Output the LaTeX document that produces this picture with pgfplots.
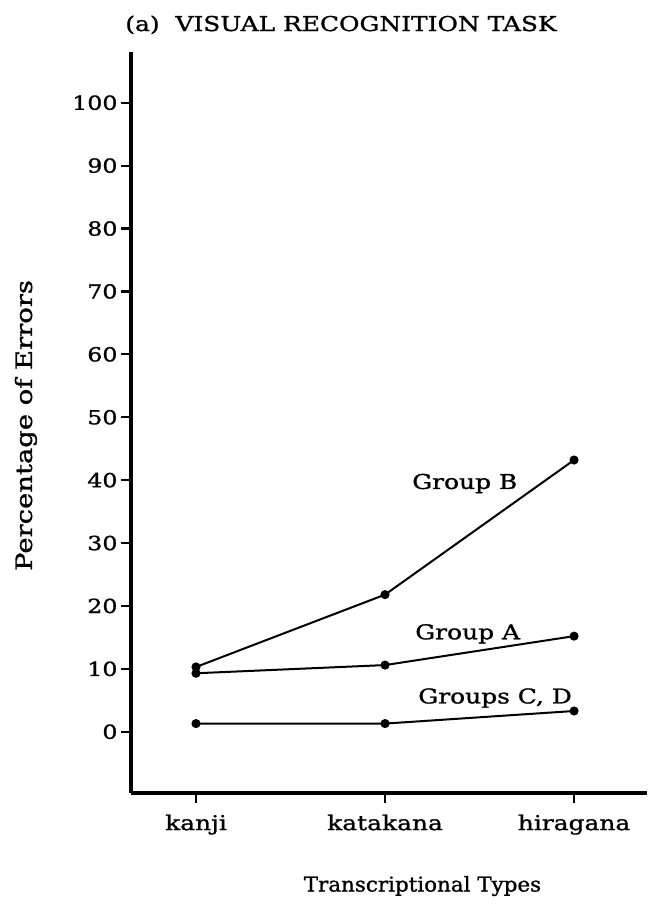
\documentclass[border=0pt]{standalone}
\usepackage{fontspec}
\setmainfont[FakeStretch=1.22, FakeBold=1.2]{DejaVu Serif}
\usepackage{graphicx}
\usepackage{pgfplots}
\pgfplotsset{compat=1.18}

\begin{document}
\begin{tikzpicture}
\begin{axis}[
    scale only axis,
    width=515.8bp, height=741bp,
    xmin=-0.344, xmax=2.385,
    ymin=-9.75, ymax=108.06,
    axis lines*=left,
    axis line style={line width=4bp},
    clip=false,
    xtick={0,1,2},
    xticklabels={kanji, katakana, hiragana},
    ytick={0,10,...,100},
    tick align=outside,
    major tick length=10bp,
    tick style={line width=2.2bp, black},
    /pgf/number format/assume math mode=true,
    ticklabel style={font=\fontsize{19.5}{22}\selectfont},
    xticklabel style={font=\fontsize{20.5}{24}\selectfont, anchor=base, yshift=-27bp},
]
\addplot[line width=2bp, black, mark=*, mark size=3.5bp] coordinates {(0,10.3) (1,21.8) (2,43.2)};
\addplot[line width=2bp, black, mark=*, mark size=3.5bp] coordinates {(0,9.3) (1,10.6) (2,15.2)};
\addplot[line width=2bp, black, mark=*, mark size=3.5bp] coordinates {(0,1.3) (1,1.3) (2,3.3)};

\begin{scope}[every node/.style={font=\fontsize{20.5}{24}\selectfont, inner sep=0pt}]
\node[anchor=base west] at (axis cs:1.143,38.6) {Group B};
\node[anchor=base west] at (axis cs:1.159,14.7) {Group A};
\node[anchor=base west] at (axis cs:1.175,4.5) {Groups C, D};
\node[anchor=base] at (axis cs:0.767,111.4) {(a)\ \ VISUAL RECOGNITION TASK};
\node[anchor=base] at (axis cs:1.198,-25.4) {\scalebox{0.86}[1]{Transcriptional Types}};
\node[anchor=base, rotate=90] at (axis cs:-0.868,48.7) {\scalebox{1.1}{Percentage of Errors}};
\end{scope}
\path (axis cs:-1.037,-27.70) rectangle (axis cs:2.392,116.33);
\end{axis}
\end{tikzpicture}
\end{document}
